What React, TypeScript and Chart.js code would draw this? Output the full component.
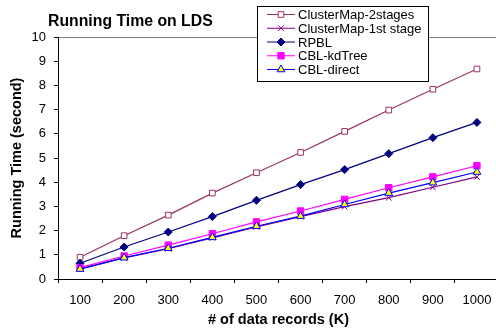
import React, { useEffect, useRef } from 'react';
import { Chart, registerables } from 'chart.js';

Chart.register(...registerables);

const categories = ['100', '200', '300', '400', '500', '600', '700', '800', '900', '1000'];
const clusterMap2Stages = [0.9, 1.79, 2.64, 3.55, 4.39, 5.23, 6.1, 6.98, 7.84, 8.68];
const clusterMap1stStage = [0.42, 0.87, 1.25, 1.7, 2.15, 2.58, 2.99, 3.36, 3.79, 4.22];
const rpbl = [0.65, 1.32, 1.94, 2.58, 3.25, 3.9, 4.52, 5.18, 5.84, 6.47];
const cblKdTree = [0.47, 0.95, 1.4, 1.87, 2.36, 2.81, 3.29, 3.77, 4.22, 4.68];
const cblDirect = [0.41, 0.88, 1.27, 1.72, 2.18, 2.6, 3.08, 3.55, 3.98, 4.42];
const yMin = 0;
const yMax = 10;
const yStep = 1;

const FONT = '"Liberation Sans", Arial, sans-serif';

type Series = {
  label: string;
  data: number[];
  line: string;
  fill: string;
  stroke: string;
  style: string;
  radius: number;
  order: number;
};

const series: Series[] = [
  { label: 'ClusterMap-2stages', data: clusterMap2Stages, line: '#993366', fill: '#ffffff', stroke: '#993366', style: 'rect', radius: 4, order: 4 },
  { label: 'ClusterMap-1st stage', data: clusterMap1stStage, line: '#800080', fill: '#800080', stroke: '#800080', style: 'crossRot', radius: 4, order: 3 },
  { label: 'RPBL', data: rpbl, line: '#000080', fill: '#000080', stroke: '#000080', style: 'rectRot', radius: 4, order: 2 },
  { label: 'CBL-kdTree', data: cblKdTree, line: '#ff00ff', fill: '#ff00ff', stroke: '#ff00ff', style: 'rect', radius: 4.5, order: 1 },
  { label: 'CBL-direct', data: cblDirect, line: '#0000ff', fill: '#ffff00', stroke: '#0000ff', style: 'triangle', radius: 4.5, order: 0 },
];

function drawMarker(ctx: CanvasRenderingContext2D, s: Series, x: number, y: number) {
  const r = s.radius;
  ctx.save();
  ctx.lineWidth = 1;
  ctx.strokeStyle = s.stroke;
  ctx.fillStyle = s.fill;
  ctx.beginPath();
  if (s.style === 'rect') {
    const h = r * Math.SQRT1_2;
    ctx.rect(x - h, y - h, 2 * h, 2 * h);
    ctx.fill();
    ctx.stroke();
  } else if (s.style === 'rectRot') {
    ctx.moveTo(x, y - r);
    ctx.lineTo(x + r, y);
    ctx.lineTo(x, y + r);
    ctx.lineTo(x - r, y);
    ctx.closePath();
    ctx.fill();
    ctx.stroke();
  } else if (s.style === 'triangle') {
    ctx.moveTo(x, y - r);
    ctx.lineTo(x + Math.sin(2 * Math.PI / 3) * r, y + r * 0.5);
    ctx.lineTo(x - Math.sin(2 * Math.PI / 3) * r, y + r * 0.5);
    ctx.closePath();
    ctx.fill();
    ctx.stroke();
  } else if (s.style === 'crossRot') {
    const h = r * Math.SQRT1_2;
    ctx.moveTo(x - h, y - h);
    ctx.lineTo(x + h, y + h);
    ctx.moveTo(x + h, y - h);
    ctx.lineTo(x - h, y + h);
    ctx.stroke();
  }
  ctx.restore();
}

const overlayPlugin = {
  id: 'overlay',
  afterDraw(chart: any) {
    const ctx: CanvasRenderingContext2D = chart.ctx;
    ctx.save();
    // title
    ctx.fillStyle = '#000';
    ctx.font = `bold 15.8px ${FONT}`;
    ctx.textAlign = 'left';
    ctx.textBaseline = 'alphabetic';
    ctx.fillText('Running Time on LDS', 48, 26);

    // legend
    const bx = 257, by = 6, bw = 171, bh = 75;
    ctx.fillStyle = '#ffffff';
    ctx.fillRect(bx, by, bw, bh);
    ctx.strokeStyle = '#000000';
    ctx.lineWidth = 1;
    ctx.strokeRect(bx + 0.5, by + 0.5, bw, bh);
    ctx.font = `13px ${FONT}`;
    series.forEach((s, i) => {
      const cy = 14.5 + i * 13.75;
      ctx.strokeStyle = s.line;
      ctx.lineWidth = 1;
      ctx.beginPath();
      ctx.moveTo(267, cy);
      ctx.lineTo(295, cy);
      ctx.stroke();
      drawMarker(ctx, s, 281, cy);
      ctx.fillStyle = '#000';
      ctx.fillText(s.label, 298, cy + 4.7);
    });
    ctx.restore();
  },
};

export default function App() {
  const ref = useRef<HTMLCanvasElement | null>(null);

  useEffect(() => {
    if (!ref.current) return;
    const chart = new Chart(ref.current, {
      type: 'line',
      data: {
        labels: categories,
        datasets: series.map((s) => ({
          label: s.label,
          data: s.data,
          borderColor: s.line,
          backgroundColor: s.fill,
          pointBackgroundColor: s.fill,
          pointBorderColor: s.stroke,
          pointStyle: s.style as any,
          pointRadius: s.radius,
          pointBorderWidth: 1,
          borderWidth: 1.2,
          tension: 0,
          fill: false,
          order: s.order,
        })),
      },
      options: {
        responsive: false,
        animation: false,
        events: [],
        layout: { padding: { left: 0, right: 21, top: 37, bottom: 0 } },
        plugins: {
          legend: { display: false },
          title: { display: false },
          tooltip: { enabled: false },
        },
        scales: {
          x: {
            type: 'category',
            offset: true,
            grid: {
              offset: true,
              drawOnChartArea: false,
              drawTicks: true,
              tickLength: 4,
              tickColor: '#000',
            },
            border: { display: true, color: '#000', width: 1 },
            ticks: {
              color: '#000',
              font: { family: FONT, size: 13 },
              padding: 10,
              maxRotation: 0,
              autoSkip: false,
            },
            title: {
              display: true,
              text: '# of data records (K)',
              color: '#000',
              font: { family: FONT, size: 14.5, weight: 'bold' },
              padding: { top: 0, bottom: 1 },
            },
            afterFit: (scale: any) => {
              scale.height = 51;
            },
          },
          y: {
            min: yMin,
            max: yMax,
            grid: {
              drawOnChartArea: true,
              drawTicks: true,
              tickLength: 4,
              tickColor: '#000',
              color: (c: any) => (c.tick && c.tick.value === yMax ? '#808080' : 'rgba(0,0,0,0)'),
            },
            border: { display: true, color: '#000', width: 1 },
            ticks: {
              stepSize: yStep,
              color: '#000',
              font: { family: FONT, size: 13 },
              padding: 8,
            },
            title: {
              display: true,
              text: 'Running Time (second)',
              color: '#000',
              font: { family: FONT, size: 14.5, weight: 'bold' },
              padding: { top: 8, bottom: 0 },
            },
            afterFit: (scale: any) => {
              scale.width = 58;
            },
          },
        },
      },
      plugins: [overlayPlugin],
    });
    return () => chart.destroy();
  }, []);

  return (
    <div style={{ position: 'fixed', left: 0, top: 0, width: 496, height: 330, overflow: 'hidden', background: '#fff' }}>
      <canvas ref={ref} width={520} height={330} style={{ display: 'block', width: 520, height: 330 }} />
    </div>
  );
}
